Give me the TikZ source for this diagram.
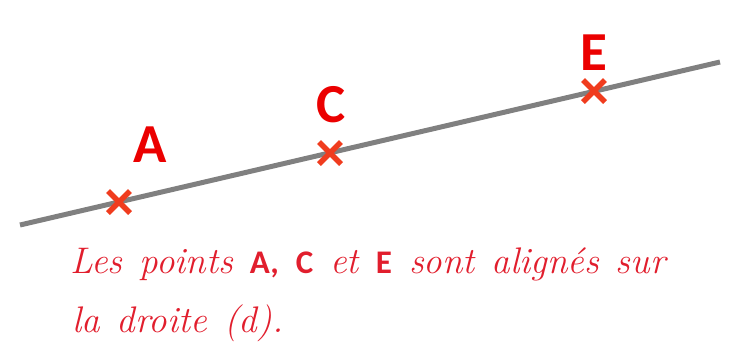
\documentclass[tikz,border=0pt]{standalone}
\usepackage{fontspec}
\usetikzlibrary{calc}
\newfontfamily\labfont{Carlito}
\definecolor{linegray}{RGB}{128,128,128}
\definecolor{crossred}{RGB}{240,60,30}
\definecolor{labred}{RGB}{235,0,0}
\definecolor{txtred}{RGB}{225,30,45}
\newcommand{\ptname}[1]{{\upshape\labfont\bfseries\fontsize{33}{36}\selectfont #1}}
\newcommand{\widespaces}{\spaceskip=17pt\relax}
\begin{document}
\begin{tikzpicture}[x=1pt,y=-1pt,
  crossmark/.style={draw=crossred,line width=5.5pt},
  ptlabel/.style={text=labred,font=\labfont\bfseries\fontsize{55}{60}\selectfont,anchor=base,inner sep=0pt},
  cursive/.style={text=txtred,font=\itshape\fontsize{37}{42}\selectfont\widespaces,anchor=base west,inner sep=0pt}]
\useasboundingbox (0,0) rectangle (732,341);
\coordinate (L1) at (20,225);
\coordinate (L2) at (720,62);
\draw[linegray,line width=5pt] (L1) -- (L2);
\coordinate (A) at (119,202);
\coordinate (C) at (330,153);
\coordinate (E) at (594,91);
\foreach \p in {A,C,E}{
  \draw[crossmark] ($(\p)+(-11,-11)$) -- ($(\p)+(11,11)$);
  \draw[crossmark] ($(\p)+(-11,11)$) -- ($(\p)+(11,-11)$);
}
\node[ptlabel] (la) at (150,162) {A};
\node[ptlabel] (lc) at (331,122) {C};
\node[ptlabel] (le) at (594,70) {E};
\node[cursive] (t1) at (70,273) {Les points \ptname{A, C} et \ptname{E} sont alignés sur};
\node[cursive] (t2) at (72,332) {la droite (d).};
\end{tikzpicture}
\end{document}
